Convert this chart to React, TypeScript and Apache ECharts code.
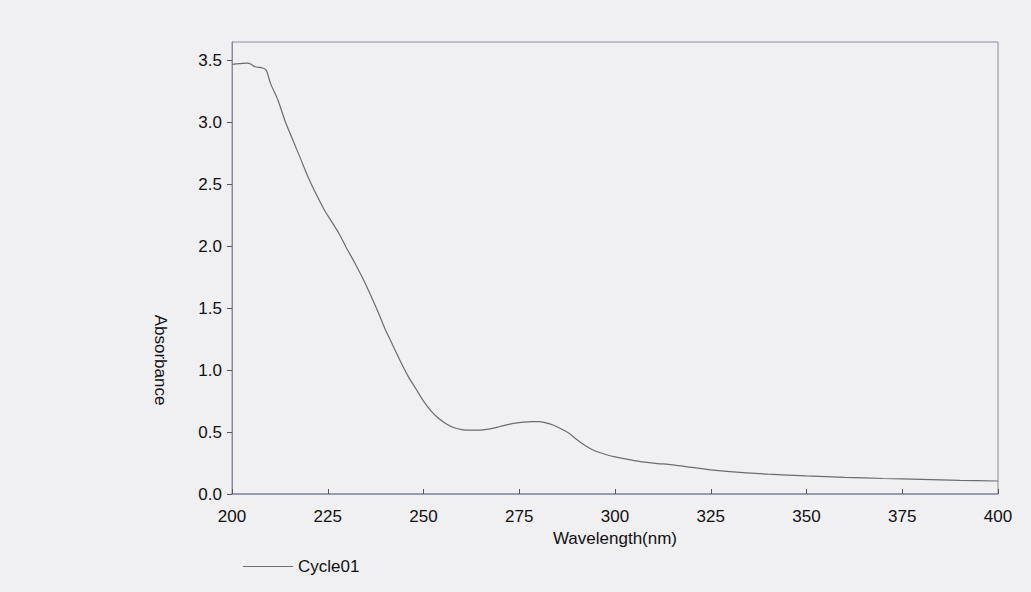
import React, { useEffect, useRef } from "react";
import * as echarts from "echarts";

const wavelengths = [200, 202, 204, 205, 206, 208, 209, 210, 212, 214, 216, 218, 220, 222, 224, 226, 228, 230, 232, 234, 236, 238, 240, 242, 244, 246, 248, 250, 252, 254, 256, 258, 260, 262, 264, 266, 268, 270, 272, 274, 276, 278, 280, 282, 284, 286, 288, 290, 292, 294, 296, 298, 300, 305, 310, 315, 320, 325, 330, 340, 350, 360, 370, 380, 390, 400];
const absorbance = [3.47, 3.475, 3.48, 3.47, 3.45, 3.44, 3.42, 3.32, 3.18, 3.0, 2.85, 2.7, 2.55, 2.42, 2.3, 2.2, 2.1, 1.98, 1.87, 1.75, 1.62, 1.48, 1.33, 1.2, 1.07, 0.95, 0.85, 0.75, 0.67, 0.61, 0.565, 0.535, 0.52, 0.515, 0.515, 0.52, 0.53, 0.545, 0.56, 0.572, 0.58, 0.585, 0.585, 0.575, 0.555, 0.525, 0.49, 0.44, 0.395, 0.36, 0.335, 0.315, 0.3, 0.27, 0.25, 0.235, 0.215, 0.195, 0.18, 0.16, 0.146, 0.135, 0.125, 0.118, 0.11, 0.105];
const yTicks = [0, 0.5, 1.0, 1.5, 2.0, 2.5, 3.0, 3.5];
const seriesName = "Cycle01";

export default function App() {
  const ref = useRef<HTMLDivElement>(null);
  useEffect(() => {
    const chart = echarts.init(ref.current!, null, { renderer: "svg" });
    const font = "'Liberation Sans', Arial, sans-serif";
    chart.setOption({
      animation: false,
      backgroundColor: "#f0eff1",
      textStyle: { fontFamily: font },
      grid: {
        left: 232, right: 33, top: 42, bottom: 98,
        show: true, borderColor: "#8a8fa0", borderWidth: 1,
      },
      legend: {
        left: 238, top: 553, itemWidth: 50, itemHeight: 1, icon: "rect",
        itemGap: 6,
        textStyle: { fontSize: 17, color: "#111", fontFamily: font },
        data: [seriesName],
      },
      xAxis: {
        type: "value", min: 200, max: 400, interval: 25,
        name: "Wavelength(nm)", nameLocation: "middle", nameGap: 35,
        nameTextStyle: { fontSize: 17, color: "#111", fontFamily: font },
        axisLine: { lineStyle: { color: "#8a8fa8", width: 1.5 } },
        axisTick: { inside: true, length: 5, lineStyle: { color: "#555" } },
        axisLabel: { fontSize: 17, color: "#111", margin: 14 },
        splitLine: { show: false },
      },
      yAxis: {
        type: "value", min: 0, max: 3.65,
        axisLine: { show: true, lineStyle: { color: "#8a8a9a" } },
        axisTick: { show: true, inside: false, length: 5, customValues: yTicks, lineStyle: { color: "#555" } },
        axisLabel: {
          fontSize: 17, color: "#111", margin: 10, customValues: yTicks,
          formatter: (v: number) => v.toFixed(1),
        },
        splitLine: { show: false },
      },
      graphic: [
        {
          type: "text", x: 160, y: 360, rotation: -Math.PI / 2,
          style: {
            text: "Absorbance", fontSize: 17, fill: "#111", fontFamily: font,
            textAlign: "center", textVerticalAlign: "middle",
          },
        },
      ],
      series: [
        {
          name: seriesName, type: "line", showSymbol: false, smooth: 0.3,
          lineStyle: { color: "#6c6c70", width: 1.2 },
          itemStyle: { color: "#6c6c70" },
          data: wavelengths.map((w, i) => [w, absorbance[i]]),
        },
      ],
    });
    return () => chart.dispose();
  }, []);
  return (
    <div
      ref={ref}
      style={{ position: "fixed", left: 0, top: 0, width: 1031, height: 592 }}
    />
  );
}
